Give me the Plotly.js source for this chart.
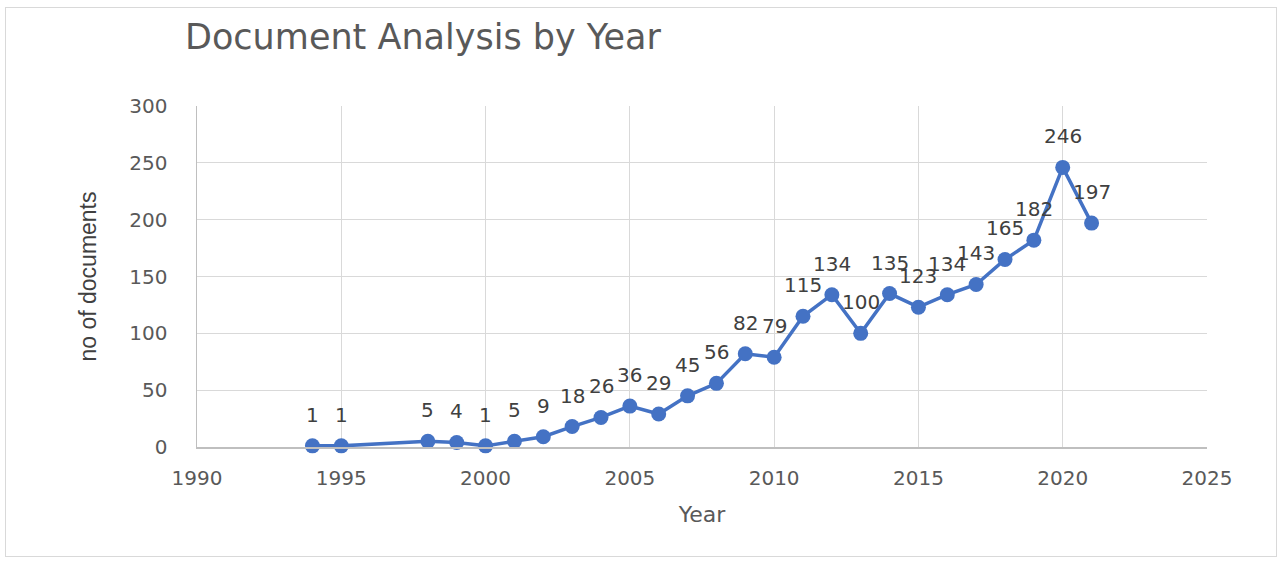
<!DOCTYPE html>
<html><head><meta charset="utf-8">
<script src="https://cdn.plot.ly/plotly-3.0.1.min.js"></script>
<style>
html,body{margin:0;padding:0;background:#fff;}
#frame{position:absolute;left:5px;top:7px;width:1272px;height:550px;border:1px solid #d9d9d9;box-sizing:border-box;}
#chart{position:absolute;left:0;top:0;width:1285px;height:563px;}
</style></head>
<body>
<div id="frame"></div>
<div id="chart"></div>
<script>
const years = [1994,1995,1998,1999,2000,2001,2002,2003,2004,2005,2006,2007,2008,2009,2010,2011,2012,2013,2014,2015,2016,2017,2018,2019,2020,2021];
const documents = [1,1,5,4,1,5,9,18,26,36,29,45,56,82,79,115,134,100,135,123,134,143,165,182,246,197];
const xTicks = [1990,1995,2000,2005,2010,2015,2020,2025];
const yTicks = [0,50,100,150,200,250,300];

const trace = {
  x: years, y: documents, type: 'scatter', mode: 'lines+markers',
  line: {color: '#4472C4', width: 3.5},
  marker: {color: '#4472C4', size: 15},
  cliponaxis: false, hoverinfo: 'x+y'
};
const labels = years.map((yr, i) => ({
  x: yr, y: documents[i], xref: 'x', yref: 'y', text: String(documents[i]),
  showarrow: false, yshift: 31, xanchor: 'center', yanchor: 'middle',
  font: {family: 'DejaVu Sans', size: 20, color: '#404040'}
}));
const layout = {
  width: 1285, height: 563,
  paper_bgcolor: 'rgba(0,0,0,0)', plot_bgcolor: 'rgba(0,0,0,0)',
  margin: {l: 197, r: 78, t: 106, b: 116},
  showlegend: false,
  annotations: labels,
  title: {text: 'Document Analysis by Year', x: 185/1285, xanchor: 'left', y: 1 - 37/563, yref: 'container', yanchor: 'middle',
          font: {family: 'DejaVu Sans', size: 35, color: '#595959'}},
  xaxis: {range: [1990, 2025], tickvals: xTicks, ticktext: xTicks.map(String),
          showgrid: true, gridcolor: '#d9d9d9', gridwidth: 1, zeroline: false,
          showline: true, linecolor: '#bfbfbf', linewidth: 1.5, ticks: '', ticklabelstandoff: 12,
          tickfont: {family: 'DejaVu Sans', size: 20, color: '#595959'},
          title: {text: 'Year', font: {family: 'DejaVu Sans', size: 22, color: '#595959'}, standoff: 18}},
  yaxis: {range: [0, 300], tickvals: yTicks, ticktext: yTicks.map(String),
          showgrid: true, gridcolor: '#d9d9d9', gridwidth: 1, zeroline: false,
          showline: true, linecolor: '#bfbfbf', linewidth: 1.5, ticks: '', ticklabelstandoff: 24,
          tickfont: {family: 'DejaVu Sans', size: 20, color: '#595959'},
          title: {text: 'no of documents', font: {family: 'Liberation Sans', size: 23, color: '#404040'}, standoff: 26}}
};
Plotly.newPlot('chart', [trace], layout, {displayModeBar: false, staticPlot: true});
</script>
</body></html>
